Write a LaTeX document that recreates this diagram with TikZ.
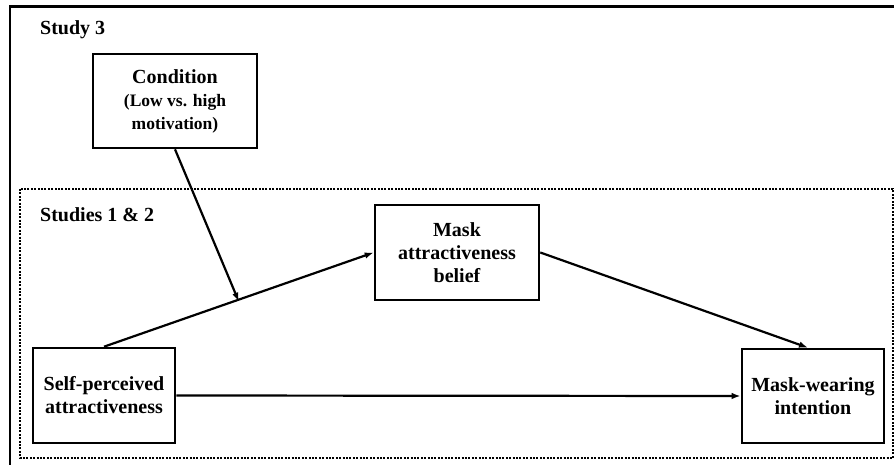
\documentclass[tikz,border=0pt]{standalone}
\usepackage{fontspec}
\setmainfont{Liberation Serif}
\usetikzlibrary{arrows.meta}
\tikzset{
  varbox/.style={draw, line width=2.6pt, align=center, inner sep=2pt,
    font=\fontsize{20}{23}\selectfont\bfseries},
  patharrow/.style={line width=2.2pt, -{Latex[length=9pt,width=6.5pt]}},
  lbl/.style={anchor=base west, inner sep=0pt, font=\fontsize{20}{23}\selectfont\bfseries}
}
\begin{document}
\begin{tikzpicture}[x=1pt,y=-1pt]
\useasboundingbox (0,0) rectangle (894,465);
\clip (0,0) rectangle (894,465);
\fill[white] (0,0) rectangle (894,465);
% outer solid frame (extends beyond the page on right and bottom)
\draw[line width=2.8pt] (10,6.5) rectangle (905,480);
% inner dotted frame
\draw[line width=2.4pt, dash pattern=on 2pt off 1.4pt] (20,189) rectangle (893,458);
\node[lbl] (s3) at (40,35) {Study 3};
\node[lbl] (s12) at (40,222) {Studies 1 \& 2};
% variables
\node[varbox, minimum width=164pt, minimum height=94pt,
      font=\fontsize{17.5}{23}\selectfont\bfseries] (cond) at (175,101)
  {{\fontsize{20}{23}\selectfont Condition}\\(Low vs. high\\motivation)};
\node[varbox, minimum width=164pt, minimum height=95pt] (mb) at (457,252.5)
  {Mask\\attractiveness\\belief};
\node[varbox, minimum width=142pt, minimum height=95pt] (self) at (104,395.5)
  {Self-perceived\\attractiveness};
\node[varbox, minimum width=142pt, minimum height=94pt] (mw) at (813,396)
  {Mask-wearing\\intention};
% paths
\draw[patharrow] (self.north) -- coordinate[pos=0.5] (mid) (mb.west);
\draw[patharrow] (mb.east) -- ([xshift=-5pt]mw.north);
\draw[patharrow] (self.east) -- (mw.west);
\draw[patharrow] (cond.south) -- ([yshift=-2pt]mid);
\end{tikzpicture}
\end{document}
